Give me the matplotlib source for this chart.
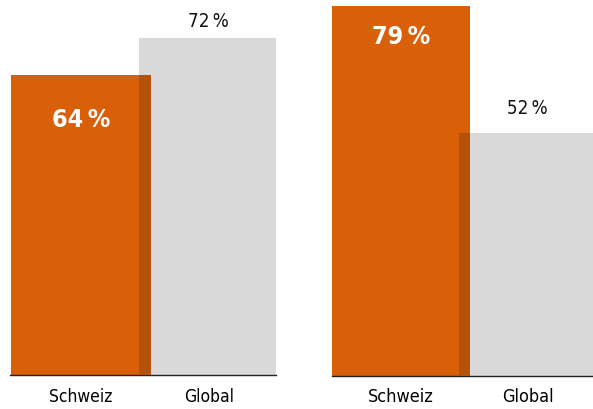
import matplotlib
matplotlib.use('Agg')
import matplotlib.pyplot as plt

plt.rcParams['font.family'] = ['DejaVu Sans']
plt.rcParams['font.stretch'] = 'condensed'

categories = ['Schweiz', 'Global']
left_values = [64, 72]
right_values = [79, 52]

ORANGE = '#D95F09'
DARK = '#B45209'
GREY = '#D9D9D9'

W, H = 593, 409
fig = plt.figure(figsize=(W / 100, H / 100), dpi=100)


def panel(x0, x1, values, ylim, base=375, fs=12.5):
    # axes placed in pixel coords, baseline at y=base
    ax = fig.add_axes([x0 / W, (H - base) / H, (x1 - x0) / W, base / H])
    w = 1.09
    ax.bar(1, values[1], width=w, color=GREY, zorder=1)
    ax.bar(0, values[0], width=w, color=ORANGE, zorder=2)
    # overlap strip
    ol = 1 - w / 2
    orr = w / 2
    ax.bar((ol + orr) / 2, min(values), width=orr - ol, color=DARK, zorder=3)
    ax.set_ylim(0, ylim)
    for s in ['top', 'left', 'right']:
        ax.spines[s].set_visible(False)
    ax.spines['bottom'].set_color('#222222')
    ax.spines['bottom'].set_linewidth(1.0)
    ax.set_yticks([])
    ax.set_xticks([0, 1])
    ax.set_xticklabels(categories, fontsize=fs)
    ax.tick_params(axis='x', length=0, pad=9)
    return ax, w


# left panel
ax1, w = panel(10, 276, left_values, 80.1)
ax1.set_xlim(-w / 2 - 0.01, 1 + w / 2 - 0.02)
ax1.text(0, left_values[0] - 9.5, '64\u2009%', color='white', fontsize=18,
         fontweight='bold', ha='center', va='center', zorder=5)
ax1.text(1, left_values[1] + 3.6, '72\u2009%', color='#111111', fontsize=13.5,
         ha='center', va='center', zorder=5)

# right panel
ax2, w = panel(332, 593, right_values, 80.3, base=376, fs=13)
ax2.set_xlim(-w / 2, 1 + w / 2 - 0.03)
ax2.text(0, right_values[0] - 6.5, '79\u2009%', color='white', fontsize=18,
         fontweight='bold', ha='center', va='center', zorder=5)
ax2.text(1, right_values[1] + 5.2, '52\u2009%', color='#111111', fontsize=13.5,
         ha='center', va='center', zorder=5)

fig.savefig('out.png', dpi=100)
